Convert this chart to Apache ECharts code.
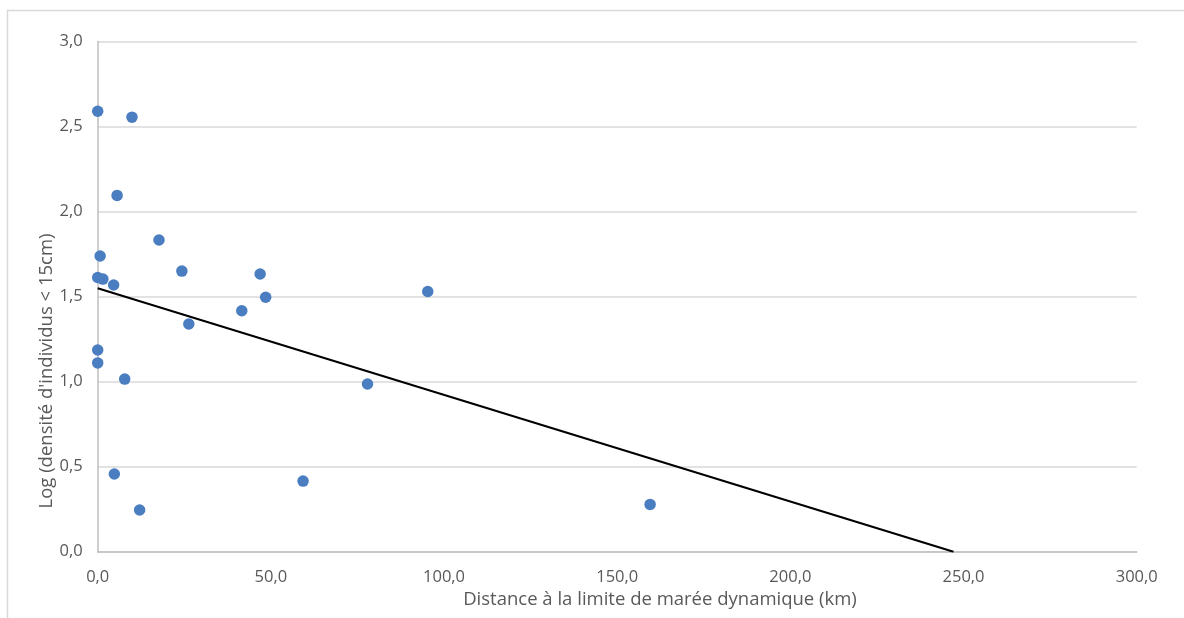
<!DOCTYPE html>
<html>
<head>
<meta charset="utf-8">
<script src="https://cdn.jsdelivr.net/npm/echarts@6/dist/echarts.min.js"></script>
<style>
  html, body { margin: 0; padding: 0; background: #fff; }
  #chart { width: 1184px; height: 618px; }
</style>
</head>
<body>
<div id="chart"></div>
<script>
// Distance to the dynamic tidal limit (km) and log density of individuals < 15 cm
const distanceKm = [0, 9.9, 5.6, 17.7, 0.7, 0, 1.5, 4.6, 24.3, 46.9, 48.5, 41.6, 26.3, 95.3, 0, 0, 7.8, 77.9, 4.8, 12.1, 59.3, 159.5];
const logDensity = [2.59, 2.555, 2.095, 1.833, 1.739, 1.612, 1.603, 1.568, 1.650, 1.633, 1.496, 1.417, 1.339, 1.530, 1.186, 1.110, 1.015, 0.986, 0.457, 0.245, 0.415, 0.278];

// Linear trend line endpoints
const trendX = [0, 247.1];
const trendY = [1.549, 0];

const xTicks = { min: 0, max: 300, interval: 50 };
const yTicks = { min: 0, max: 3, interval: 0.5 };

const xTitle = 'Distance à la limite de marée dynamique (km)';
const yTitle = "Log (densité d'individus < 15cm)";

const FONT = '"Open Sans", "Liberation Sans", sans-serif';
const fmt = v => v.toFixed(1).replace('.', ',');

const chart = echarts.init(document.getElementById('chart'), null, { renderer: 'canvas' });

chart.setOption({
  animation: false,
  backgroundColor: '#ffffff',
  grid: { left: 97.7, right: 47.3, top: 41.5, bottom: 66.3, containLabel: false },
  xAxis: {
    type: 'value',
    min: xTicks.min, max: xTicks.max, interval: xTicks.interval,
    axisLine: { show: true, lineStyle: { color: '#bfbfbf', width: 1.5 } },
    axisTick: { show: false },
    splitLine: { show: false },
    axisLabel: { formatter: fmt, color: '#595959', fontFamily: FONT, fontSize: 16.5, margin: 17 }
  },
  yAxis: {
    type: 'value',
    min: yTicks.min, max: yTicks.max, interval: yTicks.interval,
    axisLine: { show: true, lineStyle: { color: '#bfbfbf', width: 1.5 } },
    axisTick: { show: false },
    splitLine: { show: true, lineStyle: { color: '#d9d9d9', width: 1.5 } },
    axisLabel: { formatter: fmt, color: '#595959', fontFamily: FONT, fontSize: 16.5, margin: 15 }
  },
  graphic: [
    {
      type: 'rect',
      shape: { x: 7.5, y: 10.5, width: 1400, height: 800 },
      style: { fill: 'none', stroke: '#d9d9d9', lineWidth: 1.5 },
      silent: true, z: -10
    },
    {
      type: 'text',
      x: 660, y: 600,
      style: {
        text: xTitle,
        fill: '#595959',
        font: '18.5px ' + FONT,
        align: 'center',
        verticalAlign: 'middle'
      }
    },
    {
      type: 'text',
      x: 47, y: 371,
      rotation: Math.PI / 2,
      style: {
        text: yTitle,
        fill: '#595959',
        font: '18.5px ' + FONT,
        align: 'center',
        verticalAlign: 'middle'
      }
    }
  ],
  series: [
    {
      type: 'line',
      data: trendX.map((x, i) => [x, trendY[i]]),
      symbol: 'none',
      lineStyle: { color: '#000000', width: 2 },
      z: 2
    },
    {
      type: 'scatter',
      data: distanceKm.map((x, i) => [x, logDensity[i]]),
      symbol: 'circle',
      symbolSize: 11.5,
      itemStyle: { color: '#4a7ec0', opacity: 1 },
      z: 3
    }
  ]
});
</script>
</body>
</html>
